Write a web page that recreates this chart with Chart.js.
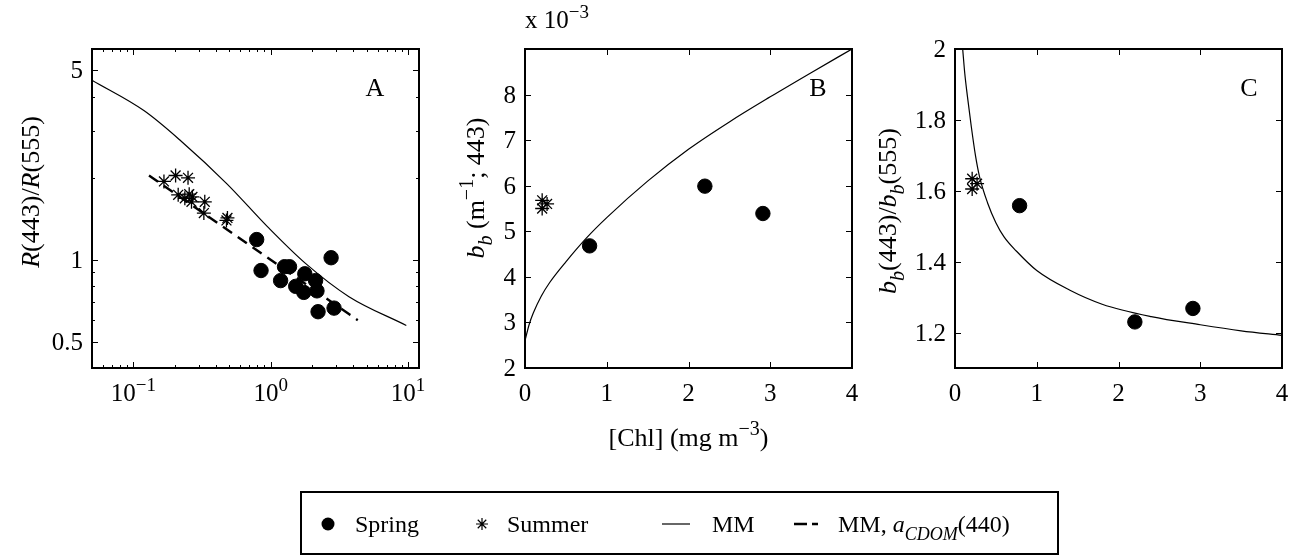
<!DOCTYPE html>
<html>
<head>
<meta charset="utf-8">
<script src="https://cdn.jsdelivr.net/npm/chart.js@4.4.1/dist/chart.umd.min.js"></script>
<style>
  html, body { margin: 0; background: #fff; }
  #wrap { position: relative; width: 1291px; height: 556px; }
  #wrap canvas { position: absolute; left: 0; top: 0; }
</style>
</head>
<body>
<div id="wrap">
  <canvas id="panelA" width="1291" height="556"></canvas>
  <canvas id="panelB" width="1291" height="556"></canvas>
  <canvas id="panelC" width="1291" height="556"></canvas>
</div>
<script>
// ---- panel A: R(443)/R(555) vs Chl (log-log) ----
const springChlA   = [0.79, 0.85, 1.26, 1.37, 1.18, 1.52, 1.77, 2.12, 1.74, 2.17, 2.75, 2.89, 2.21];
const springRatioA = [1.19, 0.915, 0.945, 0.945, 0.84, 0.80, 0.89, 0.84, 0.76, 0.77, 1.02, 0.665, 0.645];
const summerChlA   = [0.167, 0.203, 0.25, 0.212, 0.255, 0.269, 0.237, 0.265, 0.331, 0.326, 0.476, 0.484];
const summerRatioA = [1.95, 2.05, 2.01, 1.74, 1.75, 1.71, 1.69, 1.64, 1.64, 1.49, 1.40, 1.43];
const mmChlA       = [0.05, 0.12, 0.22, 0.48, 0.95, 1.79, 3.71, 9.7];
const mmRatioA     = [4.6, 3.55, 2.76, 1.91, 1.325, 0.972, 0.733, 0.574];
const cdomChlA     = [0.13, 4.3];
const cdomRatioA   = [2.05, 0.60];

// ---- panel B: bb(443), units of 1e-3 m^-1 ----
const springChlB = [0.79, 2.2, 2.91];
const springBbB  = [4.68, 5.99, 5.39];
const summerChlB = [0.21, 0.21, 0.27];
const summerBbB  = [5.68, 5.5, 5.6];
const mmChlB     = [0, 0.05, 0.1, 0.2, 0.3, 0.5, 0.75, 1, 1.5, 2, 2.5, 3, 3.5, 4];
const mmBbB      = [2.6, 2.95, 3.2, 3.58, 3.87, 4.33, 4.85, 5.3, 6.1, 6.8, 7.4, 7.95, 8.48, 9.0];

// ---- panel C: bb(443)/bb(555) ----
const springChlC   = [0.79, 2.2, 2.91];
const springRatioC = [1.558, 1.23, 1.268];
const summerChlC   = [0.21, 0.21, 0.27];
const summerRatioC = [1.634, 1.605, 1.62];
const mmChlC       = [0.094, 0.12, 0.15, 0.2, 0.25, 0.3, 0.4, 0.5, 0.6, 0.75, 1.0, 1.4, 1.8, 2.4, 3.0, 3.5, 4.0];
const mmRatioC     = [2.0, 1.93, 1.87, 1.78, 1.70, 1.64, 1.565, 1.51, 1.47, 1.43, 1.375, 1.32, 1.28, 1.245, 1.222, 1.205, 1.192];

// ---- ticks ----
const decadesA = [-1, 0, 1];
const xMinorA  = [0.06, 0.07, 0.08, 0.09, 0.2, 0.3, 0.4, 0.5, 0.6, 0.7, 0.8, 0.9, 2, 3, 4, 5, 6, 7, 8, 9];
const yTicksA  = [0.5, 1, 5];
const yMinorA  = [0.6, 0.7, 0.8, 0.9, 2, 3, 4];
const chlTicks = [0, 1, 2, 3, 4];
const yTicksB  = [2, 3, 4, 5, 6, 7, 8];
const yTicksC  = [1.2, 1.4, 1.6, 1.8, 2];
const yLabelsC = ['1.2', '1.4', '1.6', '1.8', '2'];

const W = 1291, H = 556;
const FONT = '"Liberation Serif", "Times New Roman", serif';
const TICK_PX = 25, LABEL_PX = 26, LEGEND_PX = 24;

function setFont(ctx, px, italic) {
  ctx.font = (italic ? 'italic ' : '') + px + 'px ' + FONT;
}

// parts: [text, flags]  flags: 'i' italic, '_' subscript, '^' superscript
function richText(ctx, parts, x, y, px, align) {
  const pieces = parts.map(([t, f = '']) => {
    const small = f.includes('_') || f.includes('^');
    const s = small ? Math.round(px * 0.76) : px;
    setFont(ctx, s, f.includes('i'));
    return { t, f, s, w: ctx.measureText(t).width,
             dy: f.includes('_') ? px * 0.32 : f.includes('^') ? -px * 0.42 : 0 };
  });
  const total = pieces.reduce((a, p) => a + p.w, 0);
  let cx = align === 'center' ? x - total / 2 : align === 'right' ? x - total : x;
  ctx.textAlign = 'left';
  ctx.textBaseline = 'alphabetic';
  for (const p of pieces) {
    setFont(ctx, p.s, p.f.includes('i'));
    ctx.fillText(p.t, cx, y + p.dy);
    cx += p.w;
  }
  return total;
}

function rotatedLabel(ctx, parts, x, y, px) {
  ctx.save();
  ctx.translate(x, y);
  ctx.rotate(-Math.PI / 2);
  richText(ctx, parts, 0, 0, px, 'center');
  ctx.restore();
}

// box, inward ticks on all four sides, tick labels, axis title and panel letter
function axesFrame(spec) {
  return {
    id: 'axesFrame',
    afterDatasetsDraw(chart) {
      const { ctx, chartArea: a } = chart;
      const sx = chart.scales.x, sy = chart.scales.y;
      ctx.save();
      ctx.strokeStyle = '#000';
      ctx.fillStyle = '#000';
      ctx.lineWidth = 1;
      ctx.beginPath();
      const xTick = (v, len) => {
        const p = Math.round(sx.getPixelForValue(v)) + 0.5;
        ctx.moveTo(p, a.bottom); ctx.lineTo(p, a.bottom - len);
        ctx.moveTo(p, a.top); ctx.lineTo(p, a.top + len);
      };
      const yTick = (v, len) => {
        const p = Math.round(sy.getPixelForValue(v)) + 0.5;
        ctx.moveTo(a.left, p); ctx.lineTo(a.left + len, p);
        ctx.moveTo(a.right, p); ctx.lineTo(a.right - len, p);
      };
      spec.xTicks.forEach(v => xTick(v, 6));
      (spec.xMinor || []).forEach(v => xTick(v, 3));
      spec.yTicks.forEach(v => yTick(v, 6));
      (spec.yMinor || []).forEach(v => yTick(v, 3));
      ctx.stroke();
      ctx.lineWidth = 2;
      ctx.strokeRect(a.left, a.top, a.right - a.left, a.bottom - a.top);

      spec.xTicks.forEach((v, i) =>
        richText(ctx, spec.xLabels[i], sx.getPixelForValue(v), a.bottom + 33, TICK_PX, 'center'));
      spec.yTicks.forEach((v, i) =>
        richText(ctx, [[spec.yLabels[i]]], a.left - 9, sy.getPixelForValue(v) + 8, TICK_PX, 'right'));

      rotatedLabel(ctx, spec.yTitle, spec.yTitleX, spec.yTitleY, LABEL_PX);
      richText(ctx, [[spec.letter]], spec.letterX, a.top + 47, LABEL_PX, 'center');
      ctx.restore();
    }
  };
}

// shared x title, exponent note and the legend box
const figureNotes = {
  id: 'figureNotes',
  afterDraw(chart) {
    const { ctx, chartArea: a } = chart;
    ctx.save();
    ctx.fillStyle = '#000';
    ctx.strokeStyle = '#000';
    richText(ctx, [['x 10'], ['−3', '^']], a.left, 28, TICK_PX, 'left');
    richText(ctx, [['[Chl] (mg m'], ['−3', '^'], [')']], (a.left + a.right) / 2, 446, LABEL_PX, 'center');

    // legend
    ctx.lineWidth = 2;
    ctx.strokeRect(301, 492, 757, 62);
    const my = 524, by = 532;
    ctx.beginPath();
    ctx.arc(328, my, 6.5, 0, Math.PI * 2);
    ctx.fill();
    richText(ctx, [['Spring']], 355, by, LEGEND_PX, 'left');

    ctx.lineWidth = 1.2;
    ctx.beginPath();
    for (const ang of [0, 45, 90, 135]) {
      const r = 6, c = Math.cos(ang * Math.PI / 180) * r, s = Math.sin(ang * Math.PI / 180) * r;
      ctx.moveTo(482 - c, my - s); ctx.lineTo(482 + c, my + s);
    }
    ctx.stroke();
    richText(ctx, [['Summer']], 507, by, LEGEND_PX, 'left');

    ctx.lineWidth = 1.2;
    ctx.beginPath();
    ctx.moveTo(662, my); ctx.lineTo(690, my);
    ctx.stroke();
    richText(ctx, [['MM']], 712, by, LEGEND_PX, 'left');

    ctx.lineWidth = 2.4;
    ctx.beginPath();
    ctx.moveTo(794, my); ctx.lineTo(807, my);
    ctx.moveTo(812, my); ctx.lineTo(818, my);
    ctx.stroke();
    richText(ctx, [['MM, '], ['a', 'i'], ['CDOM', 'i_'], ['(440)']], 838, by, LEGEND_PX, 'left');
    ctx.restore();
  }
};

const xy = (xs, ys) => xs.map((x, i) => ({ x, y: ys[i] }));
const springSet = (xs, ys) => ({
  data: xy(xs, ys), pointStyle: 'circle', pointRadius: 7.2,
  pointBackgroundColor: '#000', pointBorderColor: '#000', pointBorderWidth: 1, order: 0
});
const summerSet = (xs, ys) => ({
  data: xy(xs, ys), pointStyle: 'star', pointRadius: 7,
  pointBorderColor: '#000', pointBorderWidth: 1.3, order: 0
});
const curveSet = (xs, ys, dash) => ({
  data: xy(xs, ys), showLine: true, pointRadius: 0, borderColor: '#000',
  borderWidth: dash ? 2.4 : 1.2, borderDash: dash || [],
  cubicInterpolationMode: 'monotone', order: 1
});

function makePanel(id, area, scales, datasets, spec, extra) {
  return new Chart(document.getElementById(id), {
    type: 'scatter',
    data: { datasets },
    options: {
      responsive: false,
      animation: false,
      events: [],
      layout: {
        autoPadding: false,
        padding: { left: area.left, top: area.top, right: W - area.right, bottom: H - area.bottom }
      },
      plugins: { legend: { display: false }, tooltip: { enabled: false } },
      scales: {
        x: Object.assign({ display: false }, scales.x),
        y: Object.assign({ display: false }, scales.y)
      }
    },
    plugins: [axesFrame(spec)].concat(extra || [])
  });
}

const chlLabels = chlTicks.map(v => [[String(v)]]);

makePanel('panelA', { left: 92, top: 49, right: 419, bottom: 368 },
  { x: { type: 'logarithmic', min: 0.05, max: 12 }, y: { type: 'logarithmic', min: 0.4, max: 6 } },
  [
    springSet(springChlA, springRatioA),
    summerSet(summerChlA, summerRatioA),
    curveSet(mmChlA, mmRatioA),
    curveSet(cdomChlA, cdomRatioA, [11, 7])
  ],
  {
    xTicks: decadesA.map(e => Math.pow(10, e)),
    xMinor: xMinorA,
    xLabels: decadesA.map(e => [['10'], [String(e).replace('-', '−'), '^']]),
    yTicks: yTicksA, yMinor: yMinorA, yLabels: yTicksA.map(String),
    yTitle: [['R', 'i'], ['(443)/'], ['R', 'i'], ['(555)']],
    yTitleX: 39, yTitleY: 192,
    letter: 'A', letterX: 375
  });

makePanel('panelB', { left: 525, top: 49, right: 852, bottom: 368 },
  { x: { type: 'linear', min: 0, max: 4 }, y: { type: 'linear', min: 2, max: 9 } },
  [
    springSet(springChlB, springBbB),
    summerSet(summerChlB, summerBbB),
    curveSet(mmChlB, mmBbB)
  ],
  {
    xTicks: chlTicks, xLabels: chlLabels,
    yTicks: yTicksB, yLabels: yTicksB.map(String),
    yTitle: [['b', 'i'], ['b', 'i_'], [' (m'], ['−1', '^'], ['; 443)']],
    yTitleX: 484, yTitleY: 188,
    letter: 'B', letterX: 818
  },
  [figureNotes]);

makePanel('panelC', { left: 955, top: 49, right: 1282, bottom: 368 },
  { x: { type: 'linear', min: 0, max: 4 }, y: { type: 'linear', min: 1.1, max: 2 } },
  [
    springSet(springChlC, springRatioC),
    summerSet(summerChlC, summerRatioC),
    curveSet(mmChlC, mmRatioC)
  ],
  {
    xTicks: chlTicks, xLabels: chlLabels,
    yTicks: yTicksC, yLabels: yLabelsC,
    yTitle: [['b', 'i'], ['b', 'i_'], ['(443)/'], ['b', 'i'], ['b', 'i_'], ['(555)']],
    yTitleX: 896, yTitleY: 211,
    letter: 'C', letterX: 1249
  });
</script>
</body>
</html>
